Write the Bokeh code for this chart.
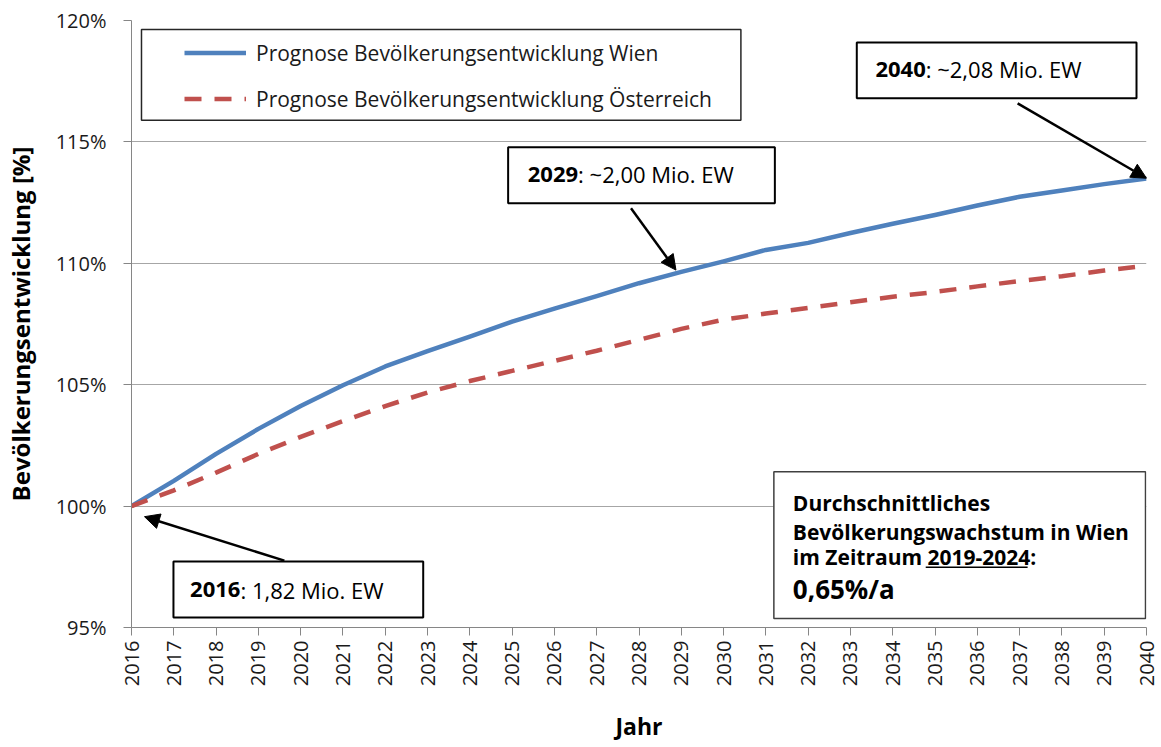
import math
from bokeh.plotting import figure
from bokeh.models import (Range1d, FixedTicker, PrintfTickFormatter, BoxAnnotation,
                          Arrow, NormalHead, Legend, LegendItem, Label)
from bokeh.embed import file_html
from bokeh.resources import INLINE

# ---------------- data ----------------
years = list(range(2016, 2041))
wien = [100.0, 101.04, 102.15, 103.18, 104.12, 104.98, 105.75, 106.38, 106.98, 107.6,
        108.13, 108.65, 109.18, 109.65, 110.08, 110.55, 110.84, 111.25, 111.63, 111.99,
        112.38, 112.74, 113.0, 113.26, 113.49]
oesterreich = [100.0, 100.65, 101.38, 102.15, 102.85, 103.5, 104.12, 104.68, 105.15, 105.57,
               105.98, 106.4, 106.85, 107.3, 107.68, 107.93, 108.16, 108.4, 108.62, 108.82,
               109.05, 109.27, 109.47, 109.7, 109.9]
y_ticks = [95, 100, 105, 110, 115, 120]
x_ticks = years
series_labels = ["Prognose Bevölkerungsentwicklung Wien",
                 "Prognose Bevölkerungsentwicklung Österreich"]
x_title = "Jahr"
y_title = "Bevölkerungsentwicklung [%]"

FONT = "Open Sans"
BLUE = "#4F81BD"
RED = "#C0504D"

W, H = 1160, 745
FL, FR, FT, FB = 130, 14, 20, 117  # borders around the frame (px)
frame_w = W - FL - FR
frame_h = H - FT - FB


# helpers to place layout decorations given picture pixel positions
def X(px):
    return 2016 + (px - FL) * 24.0 / frame_w


def Y(py):
    return 120 - (py - FT) * 25.0 / frame_h


p = figure(width=W, height=H, output_backend="svg", toolbar_location=None,
           x_range=Range1d(2016, 2040), y_range=Range1d(95, 120),
           min_border_left=FL, min_border_right=FR, min_border_top=FT, min_border_bottom=FB)
p.outline_line_color = None
p.background_fill_color = "white"
p.border_fill_color = "white"

# grid
p.xgrid.visible = False
p.ygrid.ticker = FixedTicker(ticks=y_ticks)
p.ygrid.grid_line_color = "#A6A6A6"
p.ygrid.grid_line_width = 1

# axes
p.yaxis.ticker = FixedTicker(ticks=y_ticks)
p.yaxis.formatter = PrintfTickFormatter(format="%d%%")
p.xaxis.ticker = FixedTicker(ticks=x_ticks)
p.xaxis.major_label_orientation = math.pi / 2
for ax in (p.xaxis[0], p.yaxis[0]):
    ax.axis_line_color = "#868686"
    ax.major_tick_line_color = "#868686"
    ax.minor_tick_line_color = None
    ax.major_tick_in = 0
    ax.major_tick_out = 8
    ax.major_label_text_font = FONT
    ax.major_label_text_font_size = "20px"
    ax.major_label_text_color = "#1a1a1a"
    ax.axis_label_text_font = FONT
    ax.axis_label_text_font_style = "bold"
    ax.axis_label_text_font_size = "23px"
    ax.axis_label_text_color = "black"
p.yaxis.axis_label_text_font_size = "24px"
p.yaxis.major_label_standoff = 17
p.xaxis.major_label_standoff = 5
p.yaxis.axis_label = y_title
p.xaxis.axis_label = x_title
p.yaxis.axis_label_standoff = 16
p.xaxis.axis_label_standoff = 21

# series
r_w = p.line(years, wien, line_color=BLUE, line_width=4.5, line_join="round")
r_a = p.line(years, oesterreich, line_color=RED, line_width=4.5, line_dash="17 13")

# legend frame
p.add_layout(BoxAnnotation(left=X(140), right=X(740), top=Y(29), bottom=Y(120),
                           fill_color="white", fill_alpha=1, line_color="#262626",
                           line_alpha=1, line_width=1.5, level="annotation"))
legend = Legend(items=[LegendItem(label=series_labels[0], renderers=[r_w]),
                       LegendItem(label=series_labels[1], renderers=[r_a])],
                location=(53, 514), orientation="vertical",
                border_line_color=None, background_fill_alpha=0,
                padding=0, margin=0, spacing=17,
                glyph_width=62, glyph_height=29, label_height=29, label_standoff=10,
                label_text_font=FONT, label_text_font_size="21px", label_text_color="#1a1a1a")
p.add_layout(legend, "center")


# annotation boxes
def note_box(l, t, r, b, color="black", width=2.0):
    p.add_layout(BoxAnnotation(left=X(l), right=X(r), top=Y(t), bottom=Y(b),
                               fill_color="white", fill_alpha=1, line_color=color,
                               line_alpha=1, line_width=width, level="annotation"))


def two_part(split_px, cy, bold_txt, rest_txt, size="22px"):
    p.add_layout(Label(x=X(split_px), y=Y(cy), text=bold_txt, text_align="right",
                       text_baseline="middle", text_font=FONT, text_font_style="bold",
                       text_font_size=size, text_color="black"))
    p.add_layout(Label(x=X(split_px), y=Y(cy), text=rest_txt, text_align="left",
                       text_baseline="middle", text_font=FONT,
                       text_font_size=size, text_color="black"))


def arrow(x0, y0, x1, y1):
    p.add_layout(Arrow(end=NormalHead(size=15, fill_color="black", line_color="black"),
                       x_start=X(x0), y_start=Y(y0), x_end=X(x1), y_end=Y(y1),
                       line_color="black", line_width=2.5))


# 2040
note_box(856, 42, 1136, 98)
two_part(925, 69, "2040", ": ~2,08 Mio. EW")
arrow(1017, 103, 1146, 178)
# 2029
note_box(507, 147, 774, 203)
two_part(577, 174, "2029", ": ~2,00 Mio. EW")
arrow(630, 208, 675, 270)
# 2016
note_box(172, 562, 422, 618)
two_part(239, 590, "2016", ": 1,82 Mio. EW")
arrow(283, 561, 143, 517)

# info box
note_box(773, 472, 1145, 619, color="#404040", width=1.5)
info_lines = [("Durchschnittliches", 503, "21px"),
              ("Bevölkerungswachstum in Wien", 532, "21px"),
              ("im Zeitraum 2019-2024:", 557, "21px"),
              ("0,65%/a", 589, "26px")]
for txt, cy, size in info_lines:
    p.add_layout(Label(x=X(792), y=Y(cy), text=txt, text_align="left",
                       text_baseline="middle", text_font=FONT, text_font_style="bold",
                       text_font_size=size, text_color="black"))
# underline of the period
p.add_layout(BoxAnnotation(left=X(925), right=X(1027), top=Y(567), bottom=Y(568.5),
                           fill_color="black", fill_alpha=1, line_color=None,
                           level="annotation"))

open("out.html", "w").write(file_html(p, INLINE))
